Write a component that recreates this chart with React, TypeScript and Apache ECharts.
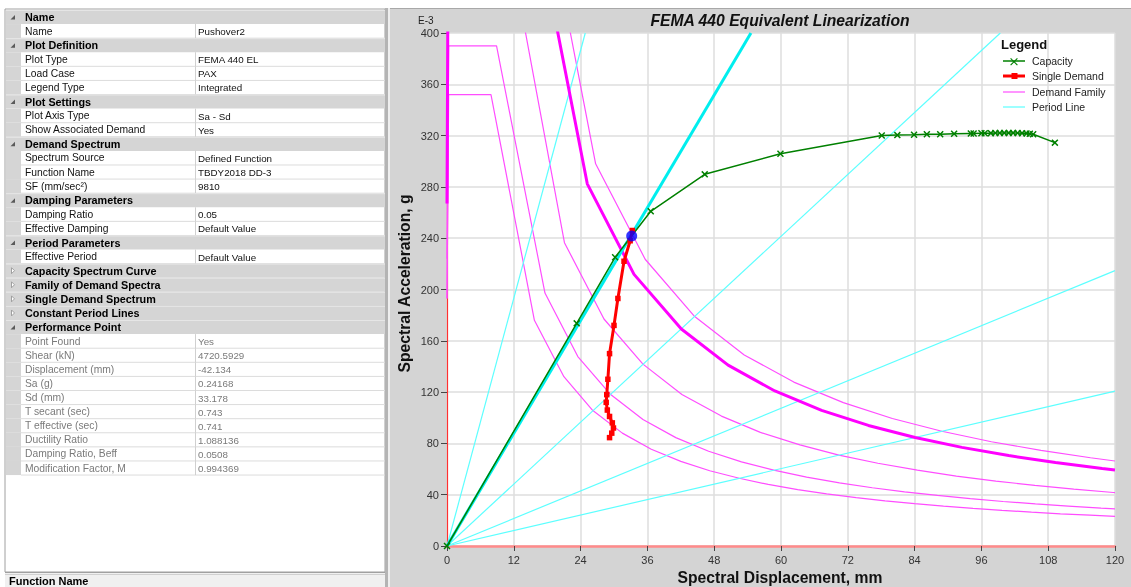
import { useEffect, useRef } from "react";
import * as echarts from "echarts";

const FONT = "'Liberation Sans', Arial, sans-serif";

// ---- axes ----
const X_MIN = 0, X_MAX = 120, X_STEP = 12;
const Y_MIN = 0, Y_MAX = 400, Y_STEP = 40;

// ---- capacity curve (Sd mm, Sa E-3 g) ----
const capacitySd = [0, 23.3, 30.2, 36.6, 46.3, 59.9, 78.1, 80.9, 83.9, 86.2, 88.6, 91.1, 94.1, 94.6, 96.0, 96.6, 97.7, 98.5, 99.3, 100.1, 100.9, 101.7, 102.5, 103.3, 104.1, 104.7, 105.3, 109.2];
const capacitySa = [0, 173.6, 225.1, 261.0, 289.8, 305.9, 320.1, 320.4, 320.7, 321.0, 321.1, 321.4, 321.6, 321.6, 321.8, 321.8, 321.9, 322.0, 322.0, 322.1, 322.1, 322.1, 322.0, 321.9, 321.7, 321.4, 321.0, 314.5];

// ---- single demand ----
const singleSd = [33.3, 32.9, 31.8, 30.7, 30.0, 29.2, 28.9, 28.7, 28.6, 28.8, 29.2, 29.7, 29.9, 29.6, 29.2];
const singleSa = [246, 238, 222, 193, 172, 150, 130, 118, 112, 106, 101, 96, 92, 88, 84.5];

// ---- performance point ----
const perfSd = [33.178];
const perfSa = [241.68];

// ---- associated demand (thick magenta) ----
const assocSd = [0, 0.4, 8.5, 25.2, 33.6, 42.1, 50.5, 58.9, 67.3, 75.7, 84.1, 92.5, 100.9, 109.3, 117.7, 120];
const assocSa = [267, 660, 654, 282.4, 211.8, 169.2, 141.0, 120.9, 105.8, 94.0, 84.6, 76.9, 70.5, 65.1, 60.4, 59.3];

// ---- demand family (thin magenta) ----
const family1Sd = [0, 0.4, 11.5, 26.7, 35.6, 44.5, 53.4, 62.3, 71.2, 80.0, 88.9, 97.8, 106.7, 115.6, 120];
const family1Sa = [267, 670, 640, 298.0, 223.6, 178.9, 149.0, 127.8, 111.8, 99.4, 89.5, 81.3, 74.6, 68.8, 66.3];
const family2Sd = [0, 0.3, 6.0, 21.1, 28.2, 35.2, 42.2, 49.3, 56.3, 63.4, 70.4, 77.4, 84.5, 91.5, 98.6, 105.6, 112.6, 119.7, 120];
const family2Sa = [224, 590, 590, 236.5, 177.0, 141.8, 118.2, 101.3, 88.6, 78.8, 70.9, 64.5, 59.1, 54.5, 50.6, 47.3, 44.3, 41.7, 41.6];
const family3Sd = [0, 0.3, 8.9, 17.6, 23.5, 29.4, 35.2, 41.1, 47.0, 52.9, 58.7, 64.6, 70.5, 76.4, 82.2, 88.1, 94.0, 99.9, 105.7, 111.6, 117.5, 120];
const family3Sa = [193, 390, 390, 197.2, 147.7, 118.1, 98.6, 84.5, 73.9, 65.6, 59.1, 53.7, 49.2, 45.4, 42.2, 39.4, 36.9, 34.7, 32.8, 31.1, 29.5, 28.9];
const family4Sd = [0, 0.3, 7.9, 15.7, 21.0, 26.2, 31.5, 36.7, 42.0, 47.2, 52.5, 57.7, 63.0, 68.2, 73.5, 78.7, 84.0, 89.2, 94.5, 99.7, 105.0, 110.2, 115.5, 120];
const family4Sa = [193, 352, 352, 176.0, 132.0, 105.6, 88.0, 75.4, 66.0, 58.7, 52.8, 48.0, 44.0, 40.6, 37.7, 35.2, 33.0, 31.1, 29.3, 27.8, 26.4, 25.1, 24.0, 23.1];

// ---- constant period lines: end points of lines from origin ----
const periodEndSd = [24.84, 99.4, 120, 120];
const periodEndSa = [400, 400, 214.7, 120.7];
const effPeriodEndSd = 54.6;
const effPeriodEndSa = 400;

// ---- property grid ----
type Row = [string, string, string?];
const propertyRows: Row[] = [
  ["h", "Name"],
  ["i", "Name", "Pushover2"],
  ["h", "Plot Definition"],
  ["i", "Plot Type", "FEMA 440 EL"],
  ["i", "Load Case", "PAX"],
  ["i", "Legend Type", "Integrated"],
  ["h", "Plot Settings"],
  ["i", "Plot Axis Type", "Sa - Sd"],
  ["i", "Show Associated Demand", "Yes"],
  ["h", "Demand Spectrum"],
  ["i", "Spectrum Source", "Defined Function"],
  ["i", "Function Name", "TBDY2018 DD-3"],
  ["i", "SF (mm/sec\u00B2)", "9810"],
  ["h", "Damping Parameters"],
  ["i", "Damping Ratio", "0.05"],
  ["i", "Effective Damping", "Default Value"],
  ["h", "Period Parameters"],
  ["i", "Effective Period", "Default Value"],
  ["c", "Capacity Spectrum Curve"],
  ["c", "Family of Demand Spectra"],
  ["c", "Single Demand Spectrum"],
  ["c", "Constant Period Lines"],
  ["h", "Performance Point"],
  ["r", "Point Found", "Yes"],
  ["r", "Shear (kN)", "4720.5929"],
  ["r", "Displacement (mm)", "-42.134"],
  ["r", "Sa (g)", "0.24168"],
  ["r", "Sd (mm)", "33.178"],
  ["r", "T secant (sec)", "0.743"],
  ["r", "T effective (sec)", "0.741"],
  ["r", "Ductility Ratio", "1.088136"],
  ["r", "Damping Ratio, Beff", "0.0508"],
  ["r", "Modification Factor, M", "0.994369"],
];

const legendItems = ["Capacity", "Single Demand", "Demand Family", "Period Line"];

const C_GREEN = "#008000";
const C_RED = "#ff0000";
const C_MAG = "#ff00ff";
const C_MAG_THIN = "#ff4dff";
const C_CYAN = "#00eeee";
const C_CYAN_THIN = "#5cffff";
const CROSS = "path://M1.5,0L5,3.5L8.5,0L10,1.5L6.5,5L10,8.5L8.5,10L5,6.5L1.5,10L0,8.5L3.5,5L0,1.5Z";

const zip = (xs: number[], ys: number[]) => xs.map((x, i) => [x, ys[i]]);

function rect(x: number, y: number, w: number, h: number, fill: string, z = -10, stroke?: string) {
  return { type: "rect", z, silent: true, shape: { x, y, width: w, height: h }, style: { fill, stroke: stroke || null, lineWidth: stroke ? 1 : 0 } };
}
function line(x1: number, y1: number, x2: number, y2: number, stroke: string, w = 1, z = -9) {
  return { type: "line", z, silent: true, shape: { x1, y1, x2, y2 }, style: { stroke, lineWidth: w } };
}
function text(x: number, y: number, t: string, font: string, fill = "#000", align = "left", z = 20, rotation = 0) {
  return { type: "text", z, x, y, rotation, silent: true, style: { text: t, font, fill, textAlign: align, textVerticalAlign: "middle" } };
}

function buildGraphics() {
  const els: any[] = [];
  // page
  els.push(rect(0, 0, 1131, 587, "#ffffff", -20));
  // left panel
  els.push(rect(5, 9, 380, 563, "#ffffff", -15, "#a0a0a0"));
  const ROW0 = 17, ROWH = 14.094;
  propertyRows.forEach((r, i) => {
    const c = ROW0 + i * ROWH;
    const top = c - ROWH / 2;
    const [kind, label, value] = r;
    if (kind === "h" || kind === "c") {
      els.push(rect(6, top, 379, ROWH, "#d5d5d5", -12));
      els.push(line(6, top + 0.5, 385, top + 0.5, "#e6e6e6", 1, -11));
      els.push(text(25, c, label, `bold 10.8px ${FONT}`, "#000"));
      if (kind === "h") {
        els.push({ type: "polygon", z: 5, silent: true, shape: { points: [[10.5, c + 2.5], [15, c + 2.5], [15, c - 2]] }, style: { fill: "#5a5a5a" } });
      } else {
        els.push({ type: "polygon", z: 5, silent: true, shape: { points: [[11.5, c - 3], [11.5, c + 3], [14.5, c]] }, style: { fill: "#ffffff", stroke: "#a0a0a0", lineWidth: 1 } });
      }
    } else {
      els.push(rect(6, top, 15, ROWH, "#d5d5d5", -12));
      els.push(line(21, top + ROWH, 385, top + ROWH, "#dcdcdc", 1, -11));
      els.push(line(195.5, top, 195.5, top + ROWH, "#d0d0d0", 1, -11));
      const col = kind === "r" ? "#7a7a7a" : "#111111";
      els.push(text(25, c, label, `10.3px ${FONT}`, col));
      els.push(text(198, c + 0.5, value || "", `9.8px ${FONT}`, col));
    }
  });
  // bottom help pane
  els.push(rect(5, 572, 380, 15, "#f0f0f0", -12));
  els.push(line(5, 572.5, 385, 572.5, "#a0a0a0", 1, -11));
  els.push(line(5, 574.5, 385, 574.5, "#d0d0d0", 1, -11));
  els.push(text(9, 580.5, "Function Name", `bold 11px ${FONT}`, "#000"));
  // splitter
  els.push(rect(385, 8, 3, 579, "#b4b4b4", -12));
  els.push(rect(388, 8, 2, 579, "#efefef", -12));
  // chart panel
  els.push(rect(390, 8, 741, 579, "#d4d4d4", -12));
  els.push(line(390, 8.5, 1131, 8.5, "#a8a8a8", 1, -11));
  // plot area
  els.push(rect(447, 33, 668, 513, "#ffffff", -8));
  // title & axis titles
  els.push(text(780, 20, "FEMA 440 Equivalent Linearization", `italic bold 15.7px ${FONT}`, "#111", "center"));
  els.push(text(418, 20.5, "E-3", `10px ${FONT}`, "#222"));
  els.push(text(780, 577, "Spectral Displacement, mm", `bold 15.7px ${FONT}`, "#111", "center"));
  els.push(text(404, 283.5, "Spectral Acceleration, g", `bold 15.7px ${FONT}`, "#111", "center", 20, Math.PI / 2));
  // legend
  els.push(text(1001, 44, "Legend", `bold 13px ${FONT}`, "#111"));
  const ly = [61, 76, 92, 107];
  els.push(line(1003, ly[0], 1025, ly[0], C_GREEN, 1.5, 20));
  els.push({ type: "polygon", z: 21, silent: true, shape: { points: [[1011, ly[0] - 3], [1014, ly[0]], [1017, ly[0] - 3], [1017.8, ly[0] - 2.2], [1014.8, ly[0] + 0.8], [1017.8, ly[0] + 3.8], [1017, ly[0] + 4.6], [1014, ly[0] + 1.6], [1011, ly[0] + 4.6], [1010.2, ly[0] + 3.8], [1013.2, ly[0] + 0.8], [1010.2, ly[0] - 2.2]] }, style: { fill: C_GREEN } });
  els.push(line(1003, ly[1], 1025, ly[1], C_RED, 3, 20));
  els.push(rect(1011.5, ly[1] - 3, 6, 6, C_RED, 21));
  els.push(line(1003, ly[2], 1025, ly[2], C_MAG_THIN, 1.2, 20));
  els.push(line(1003, ly[3], 1025, ly[3], C_CYAN_THIN, 1.2, 20));
  legendItems.forEach((t, i) => els.push(text(1032, ly[i], t, `10.5px ${FONT}`, "#222")));
  return els;
}

function buildOption() {
  const thin = (name: string, data: number[][], color: string, width: number, z: number) => ({
    type: "line", name, data, z, showSymbol: false, silent: true, clip: true,
    lineStyle: { color, width }, itemStyle: { color },
  });
  const family = [
    [family1Sd, family1Sa], [family2Sd, family2Sa], [family3Sd, family3Sa], [family4Sd, family4Sa],
  ].map(([s, a]) => thin("Demand Family", zip(s, a), C_MAG_THIN, 1.2, 2));
  const periods = periodEndSd.map((sd, i) => thin("Period Line", [[0, 0], [sd, periodEndSa[i]]], C_CYAN_THIN, 1.2, 2));
  return {
    animation: false,
    backgroundColor: "transparent",
    textStyle: { fontFamily: FONT },
    grid: { left: 447, top: 33, width: 668, height: 513, show: false },
    xAxis: {
      type: "value", min: X_MIN, max: X_MAX, interval: X_STEP,
      axisLine: { show: true, onZero: false, lineStyle: { color: "#ff8a8a", width: 2.5 } },
      axisTick: { show: true, length: 5, lineStyle: { color: "#444", width: 1 } },
      axisLabel: { color: "#333", fontSize: 11, margin: 8, fontFamily: FONT },
      splitLine: { show: true, lineStyle: { color: "#dedede", width: 1.5 } },
    },
    yAxis: {
      type: "value", min: Y_MIN, max: Y_MAX, interval: Y_STEP,
      axisLine: { show: true, onZero: false, lineStyle: { color: "#ff3030", width: 1.2 } },
      axisTick: { show: true, length: 6, lineStyle: { color: "#444", width: 1 } },
      axisLabel: { color: "#333", fontSize: 11, margin: 8, fontFamily: FONT },
      splitLine: { show: true, lineStyle: { color: "#dedede", width: 1.5 } },
    },
    graphic: { elements: buildGraphics() },
    series: [
      ...family,
      thin("Associated Demand", zip(assocSd, assocSa), C_MAG, 3, 3),
      ...periods,
      thin("Effective Period", [[0, 0], [effPeriodEndSd, effPeriodEndSa]], C_CYAN, 3, 4),
      {
        type: "line", name: "Capacity", data: zip(capacitySd, capacitySa), z: 5, silent: true,
        showSymbol: true, showAllSymbol: true, symbol: CROSS, symbolSize: 7,
        lineStyle: { color: C_GREEN, width: 1.5 }, itemStyle: { color: C_GREEN },
      },
      {
        type: "line", name: "Single Demand", data: zip(singleSd, singleSa), z: 6, silent: true,
        showSymbol: true, showAllSymbol: true, symbol: "rect", symbolSize: 5.5,
        lineStyle: { color: C_RED, width: 3 }, itemStyle: { color: C_RED },
      },
      {
        type: "scatter", name: "Performance Point", data: zip(perfSd, perfSa), z: 7, silent: true,
        symbol: "circle", symbolSize: 11, itemStyle: { color: "#0000ff" },
      },
    ],
  };
}

export default function App() {
  const ref = useRef<HTMLDivElement>(null);
  useEffect(() => {
    const chart = echarts.init(ref.current!, null, { renderer: "svg" });
    chart.setOption(buildOption() as any);
    return () => chart.dispose();
  }, []);
  return <div ref={ref} style={{ position: "fixed", left: 0, top: 0, width: 1131, height: 587 }} />;
}
